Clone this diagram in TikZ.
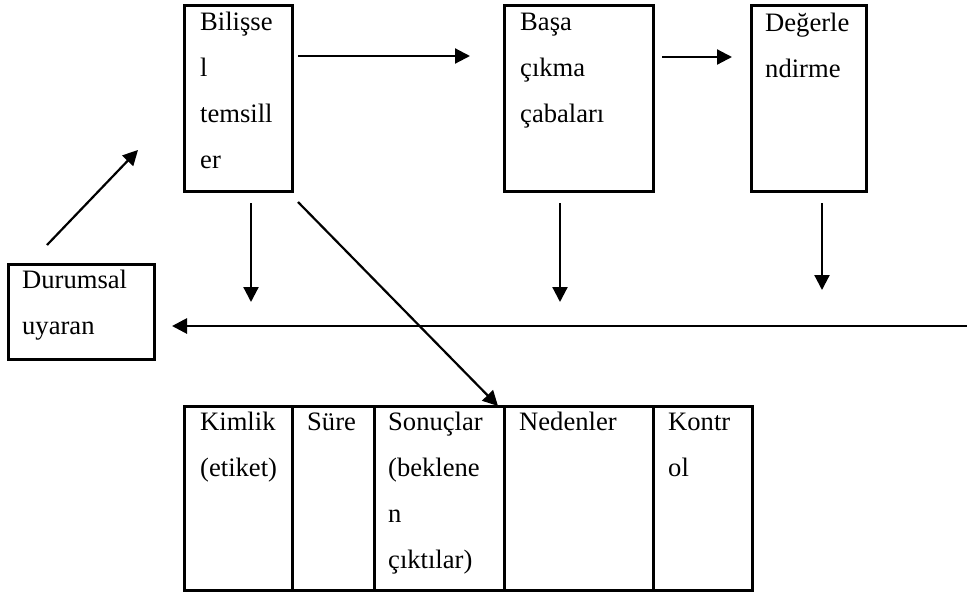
\documentclass[tikz,border=0pt]{standalone}
\usepackage{fontspec}
\setmainfont{Liberation Serif}
\usetikzlibrary{arrows.meta}
\newcommand\fsz{\fontsize{26.6pt}{46pt}\selectfont}
\newcommand\st{\rule{0pt}{20pt}}
\tikzset{
  box/.style={draw, line width=2.5pt, inner sep=0pt, anchor=north west},
  lbl/.style={anchor=north west, inner sep=0pt, align=left, font=\fsz},
  arr/.style={line width=2.2pt, -{Triangle[length=15pt,width=15pt]}},
}
\begin{document}
\begin{tikzpicture}[x=1pt,y=-1pt]
\useasboundingbox (0,0) rectangle (967,592);
% top boxes
\node[box, minimum width=108pt, minimum height=186pt] (b1) at (183,4) {};
\node[lbl] (t1) at (200,10) {\st Bilişse\\\st l\\\st temsill\\\st er};
\node[box, minimum width=149pt, minimum height=186pt] (b2) at (503,4) {};
\node[lbl] (t2) at (520,10) {\st Başa\\\st çıkma\\\st çabaları};
\node[box, minimum width=115pt, minimum height=186pt] (b3) at (750,4) {};
\node[lbl] (t3) at (765,11) {\st Değerle\\\st ndirme};
% stimulus box
\node[box, minimum width=146pt, minimum height=95pt] (d) at (7,263) {};
\node[lbl] (td) at (22,268) {\st Durumsal\\\st uyaran};
% table
\node[box, minimum width=108pt, minimum height=184pt] (c1) at (183,405) {};
\node[box, minimum width=82pt, minimum height=184pt] (c2) at (291,405) {};
\node[box, minimum width=130pt, minimum height=184pt] (c3) at (373,405) {};
\node[box, minimum width=149pt, minimum height=184pt] (c4) at (503,405) {};
\node[box, minimum width=99pt, minimum height=184pt] (c5) at (652,405) {};
\node[lbl] (tc1) at (200,410) {\st Kimlik\\\st (etiket)};
\node[lbl] (tc2) at (307,410) {\st Süre};
\node[lbl] (tc3) at (388,410) {\st Sonuçlar\\\st (beklene\\\st n\\\st çıktılar)};
\node[lbl] (tc4) at (519,410) {\st Nedenler};
\node[lbl] (tc5) at (668,410) {\st Kontr\\\st ol};
% arrow end points
\coordinate (p1) at (298,56);  \coordinate (q1) at (470,56);
\coordinate (p2) at (662,57);  \coordinate (q2) at (732,57);
\coordinate (p3) at (47,245);  \coordinate (q3) at (138,150);
\coordinate (p4) at (251,203); \coordinate (q4) at (251,302);
\coordinate (p5) at (560,203); \coordinate (q5) at (560,302);
\coordinate (p6) at (822,203); \coordinate (q6) at (822,290);
\coordinate (p7) at (967,326); \coordinate (q7) at (172,326);
\coordinate (p8) at (298,202); \coordinate (q8) at (498,406);
\draw[arr] (p1) -- (q1);
\draw[arr] (p2) -- (q2);
\draw[arr] (p3) -- (q3);
\draw[arr] (p4) -- (q4);
\draw[arr] (p5) -- (q5);
\draw[arr] (p6) -- (q6);
\draw[arr, line width=2.8pt] (p7) -- (q7);
\draw[arr] (p8) -- (q8);
\end{tikzpicture}
\end{document}
